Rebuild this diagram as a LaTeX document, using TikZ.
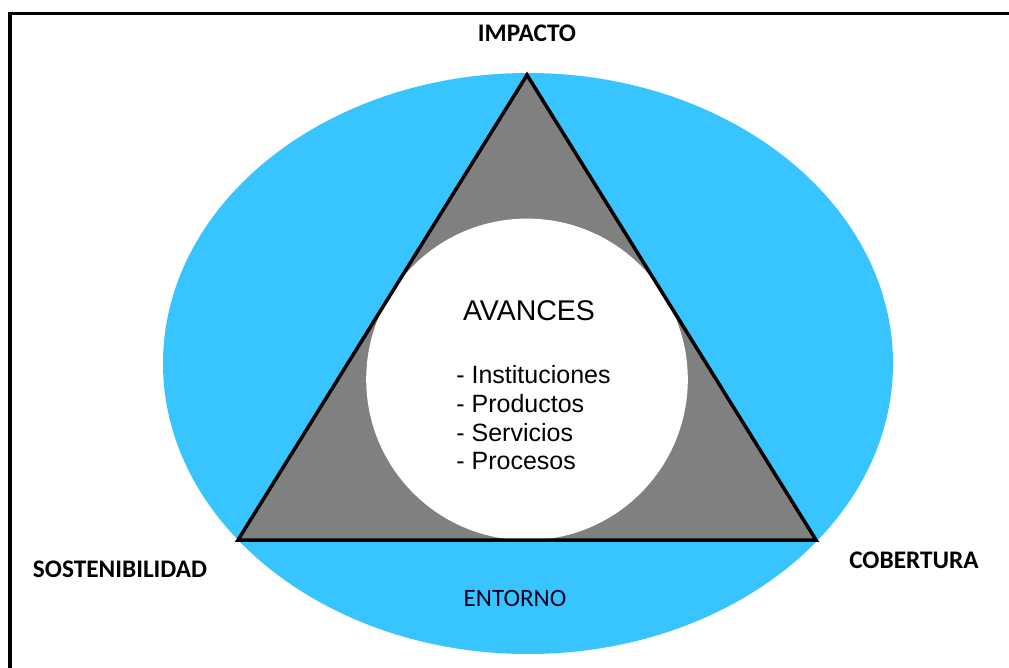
\documentclass[tikz,border=0pt]{standalone}
\usepackage{fontspec}
\setmainfont{Liberation Sans}
\newfontfamily\capsfont{Carlito}
\usetikzlibrary{positioning,calc}

\definecolor{skyfill}{RGB}{56,197,255}
\definecolor{midgray}{RGB}{128,128,128}

\begin{document}
\begin{tikzpicture}[
  x = 1pt,
  y = -1pt,
  corner/.style={font=\capsfont\bfseries\fontsize{25.3}{29}\selectfont, text=black},
  inner/.style={font=\fontsize{25}{28.7}\selectfont, align=left},
  ]
  \useasboundingbox (0,0) rectangle (1009,668);

  % frame (top and left edges only)
  \draw [line width=3.5] (10,668) -- (10,13.5) -- (1009,13.5);

  % outer ellipse
  \fill [skyfill] (528,363.5) ellipse [x radius=365, y radius=290.5];

  % triangle corners
  \coordinate (top)   at (527,75);
  \coordinate (left)  at (238,540);
  \coordinate (right) at (816,540);

  \fill [midgray] (top) -- (left) -- (right) -- cycle;
  \fill [white] (527,379.4) circle [radius=160.8];
  \draw [line width=3.5, line join=miter] (top) -- (left) -- (right) -- cycle;

  % labels
  \node [corner] (impacto)        at (527,33)  {IMPACTO};
  \node [corner] (sostenibilidad) at (120,569) {SOSTENIBILIDAD};
  \node [corner] (cobertura)      at (914,560) {COBERTURA};
  \node [font=\capsfont\fontsize{25}{29}\selectfont, text=black!85!blue]
        (entorno) at (515,598) {ENTORNO};

  \node [font=\fontsize{28.5}{33}\selectfont] (avances) at (529,311) {AVANCES};
  \node [inner] (items) at (533.5,418) {- Instituciones\\- Productos\\- Servicios\\- Procesos};
\end{tikzpicture}
\end{document}
